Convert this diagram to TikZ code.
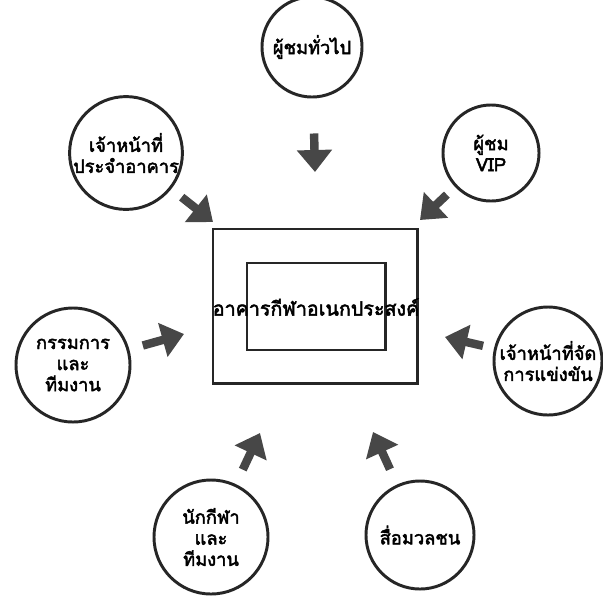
\documentclass[tikz,border=0pt]{standalone}
\usepackage{fontspec}
\newfontfamily\thaifont[Script=Thai,FakeBold=2.5]{Loma}
\usetikzlibrary{arrows.meta}
\colorlet{ringStroke}{black!85}
\colorlet{arrowFill}{black!72}
\colorlet{boxStroke}{black!85}
\newcommand{\PlaceActor}[5]{%
  % #1 name, #2 x, #3 y, #4 diameter (cm), #5 text
  \node[actor,minimum size=#4cm] (#1) at (#2,#3) {#5};
}
\newcommand{\PointIn}[4]{%
  % #1 actor, #2 tip x, #3 tip y, #4 gap (cm)
  \coordinate (#1tip) at (#2,#3);
  \draw[flow,shorten <=#4cm] (#1) -- (#1tip);
}

\begin{document}
\begin{tikzpicture}[
  x=0.025cm,y=-0.025cm,
  actor/.style={circle,draw=ringStroke,line width=2.1pt,inner sep=0pt,
    align=center,font=\thaifont\fontsize{13}{15}\selectfont},
  flow/.style={arrowFill,line width=6pt,-{Triangle[length=0.55cm,width=0.85cm]}},
  wall/.style={draw=boxStroke,line width=2.1pt,inner sep=0pt}
]
\useasboundingbox (0,0) rectangle (603,600);

% Building
\node[wall,minimum width=5.1cm,minimum height=3.85cm] (outerbox) at (315,306) {};
\node[wall,minimum width=3.45cm,minimum height=2.175cm] (innerbox) at (316,306.5) {};
\node[font=\thaifont\fontsize{14}{16}\selectfont] (bldg) at (316,307) {อาคารกีฬาอเนกประสงค์};

% Actors
\PlaceActor{crowd}{312}{47}{2.5}{ผู้ชมทั่วไป}
\PlaceActor{bldgstaff}{126}{153}{2.75}{เจ้าหน้าที่\\ประจำอาคาร}
\PlaceActor{vip}{491}{153}{2.4}{ผู้ชม\\VIP}
\PlaceActor{referee}{73}{365}{2.85}{กรรมการ\\และ\\ทีมงาน}
\PlaceActor{organizer}{548}{361}{2.7}{เจ้าหน้าที่จัด\\การแข่งขัน}
\PlaceActor{athlete}{211}{537}{2.85}{นักกีฬา\\และ\\ทีมงาน}
\PlaceActor{media}{420}{535}{2.7}{สื่อมวลชน}

% Arrows
\PointIn{crowd}{315}{172}{0.875}
\PointIn{bldgstaff}{213}{222}{0.33}
\PointIn{vip}{420}{220}{0.28}
\PointIn{referee}{184}{334}{0.35}
\PointIn{organizer}{445}{337}{0.28}
\PointIn{athlete}{260}{433}{0.4}
\PointIn{media}{373}{432}{0.42}

\end{tikzpicture}
\end{document}
